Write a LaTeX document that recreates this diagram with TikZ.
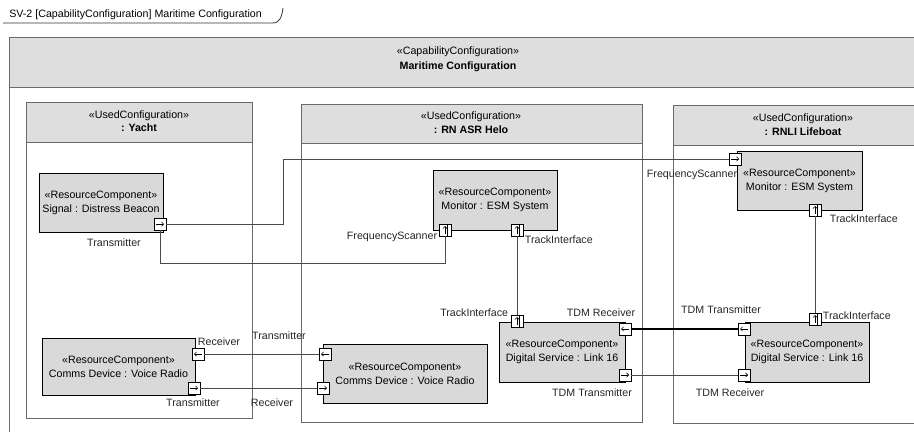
\documentclass[tikz,border=0pt]{standalone}
\usepackage{fontspec}
\setmainfont{Liberation Sans}
\usetikzlibrary{arrows.meta,calc}
\definecolor{hdrgray}{HTML}{DEDEDE}
\definecolor{compgray}{HTML}{D9D9D9}
\definecolor{linegray}{HTML}{4A4A4A}
\definecolor{framegray}{HTML}{6A6A6A}
\tikzset{
  frame/.style={draw=framegray, line width=0.6pt},
  hdr/.style={draw=framegray, fill=hdrgray, line width=0.6pt},
  comp/.style={draw=black, fill=compgray, line width=0.6pt, align=center, inner sep=0pt},
  port/.style={draw=black, fill=white, line width=0.5pt, minimum size=9pt, inner sep=0pt, outer sep=0pt},
  parr/.style={line width=0.4pt, -{Straight Barb[length=1.6pt,width=3.2pt]}},
  portR/.style={port, path picture={\draw[parr] ([xshift=-3pt]path picture bounding box.center) -- ([xshift=3pt]path picture bounding box.center);}},
  portL/.style={port, path picture={\draw[parr] ([xshift=3pt]path picture bounding box.center) -- ([xshift=-3pt]path picture bounding box.center);}},
  portU/.style={port, path picture={\draw[parr] ([yshift=-3pt]path picture bounding box.center) -- ([yshift=3pt]path picture bounding box.center);
     \draw[line width=0.3pt] ([xshift=1.5pt,yshift=-4.5pt]path picture bounding box.center) -- ([xshift=1.5pt,yshift=4.5pt]path picture bounding box.center);}},
  wire/.style={draw=linegray, line width=0.6pt},
  lbl/.style={inner sep=0.5pt, text=black!85},
}
\newcommand{\compshadow}[1]{\draw[line width=1.1pt, black] (#1.north east) -- (#1.south east) -- (#1.south west);}
\begin{document}
\begin{tikzpicture}[x=0.75pt, y=-0.75pt, font=\fontsize{8}{9.6}\selectfont]
\useasboundingbox (0,0) rectangle (914,432);
\clip (0,0) rectangle (914,432);

% title tab
\node[anchor=west, inner sep=0pt] (title) at (9,15) {SV-2 [CapabilityConfiguration] Maritime Configuration};
\draw[line width=0.6pt, black!80] (3,23) -- (273,23) .. controls (280,23) and (282,16) .. (283,8);

% outer frame
\draw[frame] (9,37) rectangle (930,445);
\draw[hdr] (9,37) rectangle (930,87);
\node (capst) at (458,52) {«CapabilityConfiguration»};
\node[font=\fontsize{8}{9.6}\selectfont\bfseries] (capnm) at (458,67) {Maritime Configuration};

% Yacht frame
\draw[frame] (26,102) rectangle (252,418);
\draw[hdr] (26,102) rectangle (252,142);
\node (yst) at (139,116) {«UsedConfiguration»};
\node[font=\fontsize{8}{9.6}\selectfont\bfseries] (ynm) at (139,128) {: Yacht};

% Helo frame
\draw[frame] (301,104) rectangle (642,422);
\draw[hdr] (301,104) rectangle (642,143);
\node (hst) at (471,117) {«UsedConfiguration»};
\node[font=\fontsize{8}{9.6}\selectfont\bfseries] (hnm) at (471,130) {: RN ASR Helo};

% RNLI frame
\draw[frame] (673,105) rectangle (933,423);
\draw[hdr] (673,105) rectangle (933,145);
\node (rst) at (803,119) {«UsedConfiguration»};
\node[font=\fontsize{8}{9.6}\selectfont\bfseries] (rnm) at (803,132) {: RNLI Lifeboat};

% components
\node[comp, minimum width=93pt, minimum height=44.25pt] (beacon) at (101,202.5) {«ResourceComponent»\\[1pt]Signal : Distress Beacon};
\compshadow{beacon}
\node[comp, minimum width=114.75pt, minimum height=42.75pt] (yradio) at (118.5,366.5) {«ResourceComponent»\\[1pt]Comms Device : Voice Radio};
\compshadow{yradio}
\node[comp, minimum width=93pt, minimum height=45pt] (hesm) at (495,200) {«ResourceComponent»\\[1pt]Monitor : ESM System};
\compshadow{hesm}
\node[comp, minimum width=94.5pt, minimum height=45pt] (hlink) at (562,352) {«ResourceComponent»\\[1pt]Digital Service : Link 16};
\compshadow{hlink}
\node[comp, minimum width=123pt, minimum height=44.25pt] (hradio) at (405,373.5) {«ResourceComponent»\\[1pt]Comms Device : Voice Radio};
\compshadow{hradio}
\node[comp, minimum width=93.75pt, minimum height=44.25pt] (resm) at (799.5,180.5) {«ResourceComponent»\\[1pt]Monitor : ESM System};
\compshadow{resm}
\node[comp, minimum width=93pt, minimum height=45pt] (rlink) at (807,352) {«ResourceComponent»\\[1pt]Digital Service : Link 16};
\compshadow{rlink}

% ports
\node[portR] (bT) at (160,224) {};
\node[portU] (hFS) at (445,230) {};
\node[portU] (hTI1) at (517,230) {};
\node[portU] (hTI2) at (517,321) {};
\node[portL] (hRx) at (625,329) {};
\node[portR] (hTx) at (625,375) {};
\node[portR] (rFS) at (735,159) {};
\node[portU] (rTI1) at (815,210) {};
\node[portU] (rTI2) at (815,319) {};
\node[portL] (rTx) at (744,329) {};
\node[portR] (rRx) at (744,375) {};
\node[portL] (yRx) at (198,354) {};
\node[portR] (yTx) at (194,388) {};
\node[portL] (hrTx) at (325,354) {};
\node[portR] (hrRx) at (323,388) {};

% wires
\draw[wire] (bT.east) -| (283,159) -- (rFS.west);
\draw[wire] (bT.south) -- ++(0,33) -| (hFS.south);
\draw[wire] (hTI1.south) -- (hTI2.north);
\draw[wire] (rTI1.south) -- (rTI2.north);
\draw[wire, draw=black, line width=0.9pt] (hRx.east) -- (rTx.west);
\draw[wire] (hTx.east) -- (rRx.west);
\draw[wire] (yRx.east) -- (hrTx.west);
\draw[wire] (yTx.east) -- (hrRx.west);

% port labels
\node[lbl] (lbT) at (114,243) {Transmitter};
\node[lbl, anchor=east] (lhFS) at (438,237) {FrequencyScanner};
\node[lbl, anchor=west] (lhTI1) at (524,240) {TrackInterface};
\node[lbl, anchor=east] (lhTI2) at (509,313) {TrackInterface};
\node[lbl] (lhRx) at (601,313) {TDM Receiver};
\node[lbl] (lhTx) at (592,393) {TDM Transmitter};
\node[lbl, anchor=east] (lrFS) at (738,175) {FrequencyScanner};
\node[lbl, anchor=west] (lrTI1) at (829,219) {TrackInterface};
\node[lbl, anchor=west] (lrTI2) at (822,316) {TrackInterface};
\node[lbl] (lrTx) at (721,310) {TDM Transmitter};
\node[lbl] (lrRx) at (730,393) {TDM Receiver};
\node[lbl, anchor=west] (lyRx) at (197,342) {Receiver};
\node[lbl] (lyTx) at (193,403) {Transmitter};
\node[lbl] (lhrTx) at (279,336) {Transmitter};
\node[lbl] (lhrRx) at (272,403) {Receiver};
\end{tikzpicture}
\end{document}
